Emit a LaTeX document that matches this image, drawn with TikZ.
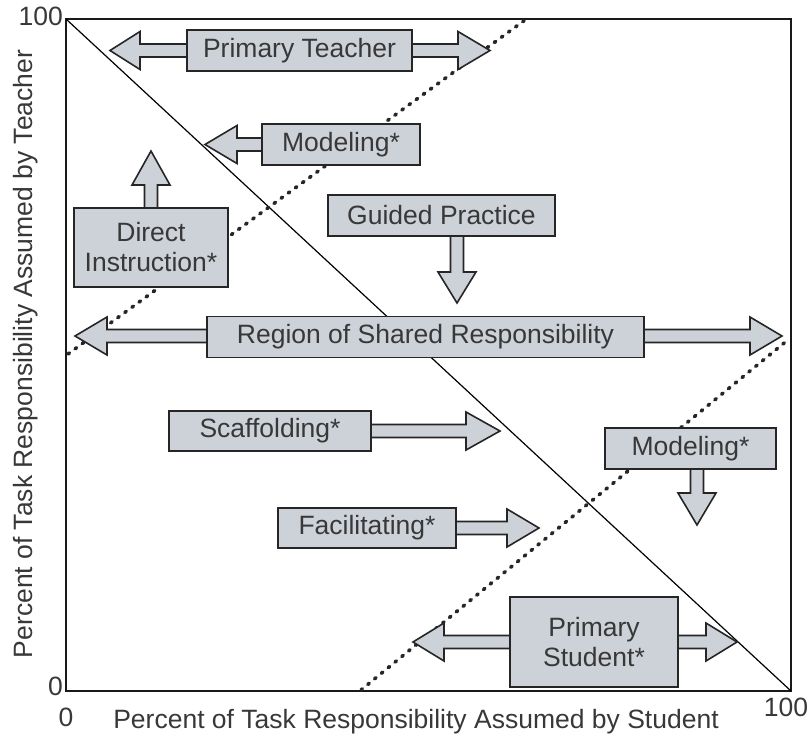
\documentclass[tikz,border=0pt]{standalone}
\usepackage{fontspec}
\setmainfont{Liberation Sans}
\usetikzlibrary{calc}
\pgfdeclarelayer{bg}
\pgfdeclarelayer{arr}
\pgfsetlayers{bg,arr,main}
\definecolor{boxfill}{HTML}{CDD1D8}
\definecolor{txt}{HTML}{383838}
\definecolor{edge}{HTML}{262626}
\tikzset{
  lbox/.style={draw=edge, fill=boxfill, line width=1.6pt, inner sep=0pt, text=txt,
    font=\fontsize{26.5}{30}\selectfont, align=center},
  barrow/.style={draw=edge, fill=boxfill, line width=1.6pt, line join=miter},
  axlab/.style={text=txt, font=\fontsize{26.5}{30}\selectfont, inner sep=0pt},
  dotline/.style={line width=3.6pt, line cap=round, dash pattern=on 1.8pt off 7pt, draw=black!85},
  frameline/.style={line width=1.8pt, draw=black!90},
  diagline/.style={line width=1.2pt, draw=black},
}
% horizontal block arrow: #1 start node, #2 tip coordinate, #3 signed head length
\newcommand{\harr}[3]{%
  \begin{pgfonlayer}{arr}
  \path[barrow] let \p1=(#1),\p2=(#2) in
    ({\x1},{\y2+6.5pt}) -- ({\x2-(#3pt)},{\y2+6.5pt}) -- ({\x2-(#3pt)},{\y2+19pt}) -- ({\x2},{\y2})
    -- ({\x2-(#3pt)},{\y2-19pt}) -- ({\x2-(#3pt)},{\y2-6.5pt}) -- ({\x1},{\y2-6.5pt}) -- cycle;
  \end{pgfonlayer}}
% vertical block arrow: #1 start node, #2 tip coordinate, #3 signed head length (canvas up positive)
\newcommand{\varr}[3]{%
  \begin{pgfonlayer}{arr}
  \path[barrow] let \p1=(#1),\p2=(#2) in
    ({\x2+6.5pt},{\y1}) -- ({\x2+6.5pt},{\y2-(#3pt)}) -- ({\x2+19pt},{\y2-(#3pt)}) -- ({\x2},{\y2})
    -- ({\x2-19pt},{\y2-(#3pt)}) -- ({\x2-6.5pt},{\y2-(#3pt)}) -- ({\x2-6.5pt},{\y1}) -- cycle;
  \end{pgfonlayer}}
\begin{document}
\begin{tikzpicture}[x=1pt,y=-1pt]
\useasboundingbox (0,0) rectangle (809,742);
% frame and guide lines
\coordinate (TL) at (66,19);
\coordinate (BR) at (791,691);
\coordinate (u1) at (68,354);
\coordinate (u2) at (525,20);
\coordinate (l1) at (361,690);
\coordinate (l2) at (789,339);
\begin{pgfonlayer}{bg}
  \draw[frameline] (TL) rectangle (BR);
  \draw[diagline] (TL) -- (BR);
  \draw[dotline] (u1) -- (u2);
  \draw[dotline] (l1) -- (l2);
\end{pgfonlayer}
% boxes
\node[lbox, minimum width=225, minimum height=41] (pt) at (299.5,50.5) {Primary Teacher};
\node[lbox, minimum width=158, minimum height=41] (m1) at (341,144.5) {Modeling*};
\node[lbox, minimum width=154, minimum height=79] (di) at (151,247.5) {Direct\\Instruction*};
\node[lbox, minimum width=227, minimum height=41] (gp) at (441.5,215.5) {Guided Practice};
\node[lbox, minimum width=437, minimum height=41] (rs) at (425.5,337) {Region of Shared Responsibility};
\node[lbox, minimum width=202, minimum height=40] (sc) at (270,431) {Scaffolding*};
\node[lbox, minimum width=171, minimum height=41] (m2) at (690.5,448.5) {Modeling*};
\node[lbox, minimum width=178, minimum height=40] (fa) at (367,528) {Facilitating*};
\node[lbox, minimum width=168, minimum height=90] (ps) at (594,642) {Primary\\Student*};
% arrow tips
\coordinate (ptL) at (110,50.5);
\coordinate (ptR) at (490,50.5);
\coordinate (m1L) at (205,144.5);
\coordinate (diU) at (151,151);
\coordinate (gpD) at (457,303);
\coordinate (rsL) at (75,336);
\coordinate (rsR) at (782,336);
\coordinate (scR) at (500,431);
\coordinate (m2D) at (697,525);
\coordinate (faR) at (539,528);
\coordinate (psL) at (413,642);
\coordinate (psR) at (737,642);
\harr{pt}{ptL}{-30}
\harr{pt}{ptR}{32}
\harr{m1}{m1L}{-32}
\varr{di}{diU}{34}
\varr{gp}{gpD}{-31}
\harr{rs}{rsL}{-32}
\harr{rs}{rsR}{32}
\harr{sc}{scR}{34}
\varr{m2}{m2D}{-32}
\harr{fa}{faR}{32}
\harr{ps}{psL}{-31}
\harr{ps}{psR}{31}
% axis labels
\node[axlab, anchor=east] (y100) at (63,16) {100};
\node[axlab, anchor=east] (y0) at (63,686) {0};
\node[axlab] (x0) at (66,717) {0};
\node[axlab] (x100) at (786,707) {100};
\node[axlab, anchor=base] (xlab) at (416,728) {Percent of Task Responsibility Assumed by Student};
\node[axlab, anchor=base, rotate=90] (ylab) at (32,354) {Percent of Task Responsibility Assumed by Teacher};
\end{tikzpicture}
\end{document}
